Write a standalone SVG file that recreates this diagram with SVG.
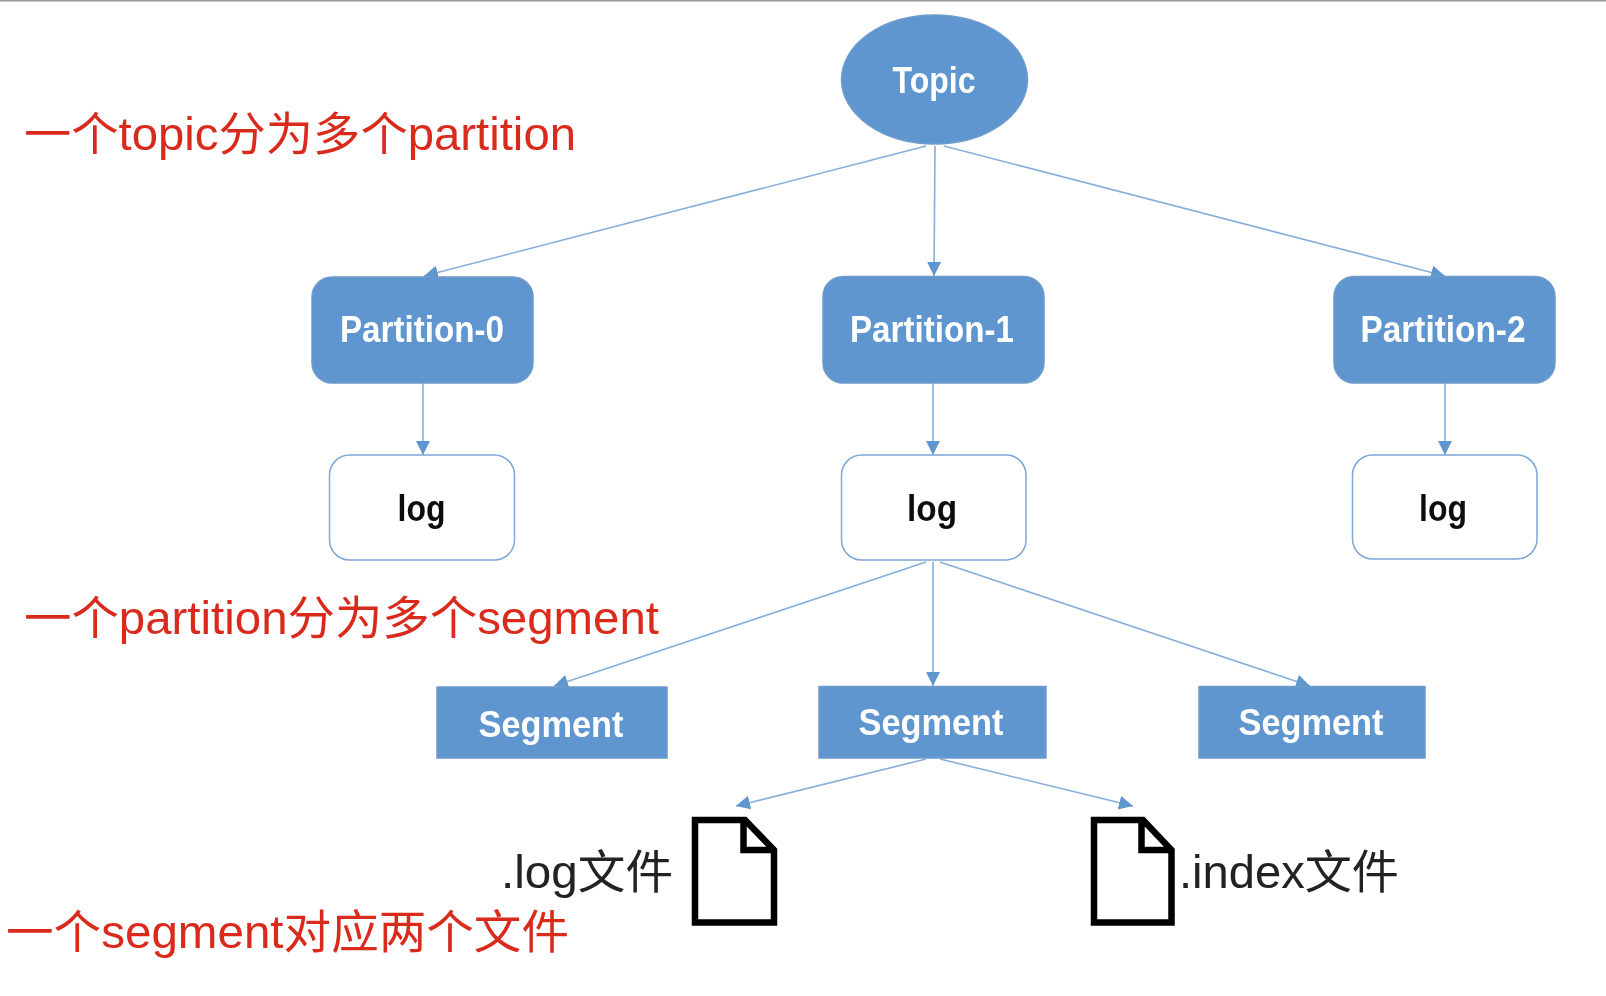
<svg xmlns="http://www.w3.org/2000/svg" width="1606" height="996" viewBox="0 0 1606 996">
<style>
.fill{fill:#5f96cf;stroke:#6d9bcc;stroke-width:1.5}
.box{fill:#fff;stroke:#7ba7d6;stroke-width:1.5}
.w{font-family:"Liberation Sans","Noto Sans CJK SC",sans-serif;font-size:36px;fill:#fff;font-weight:700;text-anchor:middle}
.k{font-family:"Liberation Sans","Noto Sans CJK SC",sans-serif;font-size:36px;fill:#111;font-weight:700;text-anchor:middle}
.r{font-family:"Liberation Sans","Noto Sans CJK SC",sans-serif;font-size:46px;fill:#d92b1f}
.b{font-family:"Liberation Sans","Noto Sans CJK SC",sans-serif;font-size:46px;fill:#222}
.c{stroke:#86aedb;stroke-width:1.6;fill:none;marker-end:url(#a)}
.doc{fill:#fff;stroke:#000;stroke-width:6.5}
</style>
<defs>
<marker id="a" markerUnits="userSpaceOnUse" markerWidth="16" markerHeight="16" refX="14" refY="7" orient="auto">
<path d="M0 0L14 7L0 14Z" fill="#5f96cf"/>
</marker>
<filter id="soft" filterUnits="userSpaceOnUse" x="0" y="0" width="1606" height="996"><feGaussianBlur stdDeviation="0.5"/></filter>
</defs>
<rect width="1606" height="996" fill="#fff"/>
<rect width="1606" height="1.5" fill="#999"/>
<g filter="url(#soft)">
<g id="connectors">
<line class="c" x1="926" y1="146" x2="424" y2="276"/>
<line class="c" x1="935" y1="146" x2="934" y2="276"/>
<line class="c" x1="944" y1="146" x2="1445" y2="276"/>
<line class="c" x1="423" y1="383" x2="423" y2="455"/>
<line class="c" x1="933" y1="383" x2="933" y2="455"/>
<line class="c" x1="1445" y1="383" x2="1445" y2="455"/>
<line class="c" x1="926" y1="562" x2="554" y2="686"/>
<line class="c" x1="933" y1="562" x2="933" y2="686"/>
<line class="c" x1="940" y1="562" x2="1310" y2="686"/>
<line class="c" x1="926" y1="759" x2="736" y2="806"/>
<line class="c" x1="940" y1="759" x2="1133" y2="806"/>
</g>
<g id="topic"><ellipse class="fill" cx="934.500" cy="79.500" rx="93" ry="64.500"/><text class="w" x="934" y="93" textLength="83" lengthAdjust="spacingAndGlyphs">Topic</text></g>
<g id="partition-0"><rect class="fill" x="312" y="277" width="221" height="106" rx="20"/><text class="w" x="422" y="342" textLength="164" lengthAdjust="spacingAndGlyphs">Partition-0</text></g>
<g id="partition-1"><rect class="fill" x="823" y="276.500" width="221" height="106.500" rx="20"/><text class="w" x="932" y="342" textLength="164" lengthAdjust="spacingAndGlyphs">Partition-1</text></g>
<g id="partition-2"><rect class="fill" x="1334" y="276.500" width="221" height="106.500" rx="20"/><text class="w" x="1443" y="342" textLength="165" lengthAdjust="spacingAndGlyphs">Partition-2</text></g>
<g id="log-0"><rect class="box" x="329.500" y="455" width="185" height="105" rx="20"/><text class="k" x="421.500" y="521" textLength="48" lengthAdjust="spacingAndGlyphs">log</text></g>
<g id="log-1"><rect class="box" x="841.500" y="455" width="184.500" height="105" rx="20"/><text class="k" x="932" y="521" textLength="50" lengthAdjust="spacingAndGlyphs">log</text></g>
<g id="log-2"><rect class="box" x="1352.500" y="455" width="184.500" height="104" rx="20"/><text class="k" x="1443" y="521" textLength="48" lengthAdjust="spacingAndGlyphs">log</text></g>
<g id="segment-0"><rect class="fill" x="437" y="687" width="230" height="71"/><text class="w" x="551" y="737" textLength="145" lengthAdjust="spacingAndGlyphs">Segment</text></g>
<g id="segment-1"><rect class="fill" x="819" y="686.500" width="227" height="71.500"/><text class="w" x="931" y="735" textLength="145" lengthAdjust="spacingAndGlyphs">Segment</text></g>
<g id="segment-2"><rect class="fill" x="1199" y="686.500" width="226" height="71.500"/><text class="w" x="1311" y="735" textLength="145" lengthAdjust="spacingAndGlyphs">Segment</text></g>
<g id="file-log"><path class="doc" d="M695 820H745L774 850V922.500H695Z M743.500 820V850H774"/><text class="b" x="501" y="888" textLength="172" lengthAdjust="spacingAndGlyphs">.log文件</text></g>
<g id="file-index"><path class="doc" d="M1094 820H1143L1171.500 850V922.500H1094Z M1141.500 820V850H1171.500"/><text class="b" x="1179" y="888" textLength="220" lengthAdjust="spacingAndGlyphs">.index文件</text></g>
<text class="r" x="24" y="150" textLength="552" lengthAdjust="spacingAndGlyphs">一个topic分为多个partition</text>
<text class="r" x="24" y="634" textLength="635" lengthAdjust="spacingAndGlyphs">一个partition分为多个segment</text>
<text class="r" x="6" y="948" textLength="563" lengthAdjust="spacingAndGlyphs">一个segment对应两个文件</text>
</g>
</svg>
